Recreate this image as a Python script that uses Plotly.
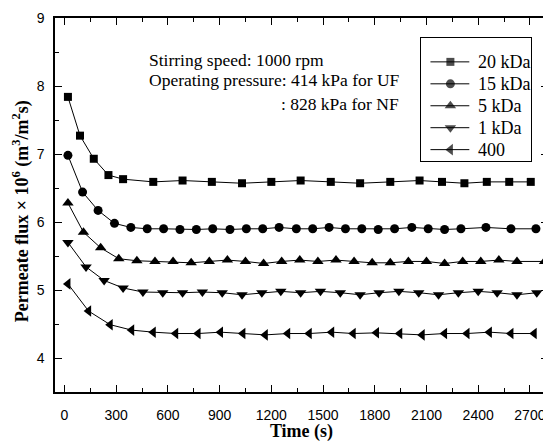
import plotly.graph_objects as go

# ---- data ----
t_20k = [20, 90, 170, 255, 340, 515, 685, 855, 1030, 1200, 1370, 1545, 1715, 1890, 2060, 2190, 2320, 2450, 2580, 2705]
j_20k = [7.84, 7.27, 6.93, 6.69, 6.63, 6.59, 6.61, 6.59, 6.57, 6.59, 6.61, 6.59, 6.57, 6.59, 6.61, 6.59, 6.57, 6.59, 6.59, 6.59]

t_15k = [20, 105, 195, 290, 385, 480, 575, 670, 765, 860, 960, 1055, 1150, 1245, 1345, 1440, 1535, 1630, 1725, 1820,
         1915, 2015, 2110, 2205, 2300, 2445, 2590, 2735]
j_15k = [6.98, 6.44, 6.17, 5.98, 5.92, 5.90, 5.90, 5.89, 5.89, 5.90, 5.89, 5.90, 5.90, 5.92, 5.90, 5.90, 5.92, 5.90, 5.90, 5.89,
         5.90, 5.92, 5.90, 5.89, 5.90, 5.92, 5.90, 5.90]

t_5k = [20, 110, 210, 315, 420, 525, 630, 735, 840, 945, 1050, 1155, 1260, 1365, 1470, 1575, 1680, 1785, 1890, 1995,
        2100, 2205, 2310, 2415, 2520, 2625, 2785]
j_5k = [6.28, 5.85, 5.62, 5.46, 5.43, 5.42, 5.42, 5.40, 5.42, 5.44, 5.42, 5.39, 5.42, 5.44, 5.42, 5.44, 5.42, 5.40, 5.40, 5.42,
        5.42, 5.39, 5.42, 5.42, 5.44, 5.42, 5.42]

t_1k = [20, 125, 230, 340, 455, 570, 685, 800, 915, 1030, 1145, 1255, 1370, 1485, 1600, 1715, 1825, 1940, 2055, 2170,
        2285, 2400, 2510, 2625, 2740]
j_1k = [5.70, 5.34, 5.14, 5.03, 4.97, 4.96, 4.96, 4.97, 4.96, 4.93, 4.96, 4.98, 4.96, 4.98, 4.96, 4.93, 4.96, 4.98, 4.96, 4.93,
        4.96, 4.98, 4.96, 4.93, 4.96]

t_400 = [20, 140, 265, 390, 515, 645, 775, 905, 1035, 1165, 1295, 1420, 1550, 1675, 1810, 1945, 2075, 2205, 2335, 2465,
         2590, 2725]
j_400 = [5.09, 4.69, 4.49, 4.41, 4.38, 4.36, 4.36, 4.38, 4.36, 4.34, 4.36, 4.36, 4.38, 4.36, 4.37, 4.36, 4.34, 4.36, 4.36, 4.38,
         4.36, 4.36]

series_names = ["20 kDa", "15 kDa", "5 kDa", "1 kDa", "400"]
x_ticks = [0, 300, 600, 900, 1200, 1500, 1800, 2100, 2400, 2700]
y_ticks = [4, 5, 6, 7, 8, 9]

times = [t_20k, t_15k, t_5k, t_1k, t_400]
fluxes = [j_20k, j_15k, j_5k, j_1k, j_400]
symbols = ["square", "circle", "triangle-up", "triangle-down", "triangle-left"]
sizes = [8, 9, 10, 10, 10]

SERIF = "Liberation Serif"
SANS = "Liberation Sans"

fig = go.Figure()
for name, x, y, sym, sz in zip(series_names, times, fluxes, symbols, sizes):
    fig.add_trace(go.Scatter(
        x=x, y=y, name=name, mode="lines+markers", showlegend=False,
        line=dict(color="black", width=1),
        marker=dict(symbol=sym, size=sz, color="black", line=dict(width=0)),
    ))

# ---- legend box drawn on its own small axes (units: pixels inside the box) ----
LEG_W, LEG_H = 110, 123
ROW0, ROW_STEP = 24, 22
LINE_X0, LINE_X1, MARK_X, TEXT_X = 9, 48, 29, 55
for i, (name, sym, sz) in enumerate(zip(series_names, symbols, sizes)):
    ry = ROW0 + ROW_STEP * i
    fig.add_trace(go.Scatter(
        x=[LINE_X0, MARK_X, LINE_X1], y=[ry, ry, ry], mode="lines+markers",
        xaxis="x2", yaxis="y2", showlegend=False, hoverinfo="skip", cliponaxis=False,
        line=dict(color="black", width=1),
        marker=dict(symbol=sym, size=[0, sz, 0], color="black", line=dict(width=0)),
    ))
    fig.add_annotation(text=name, xref="x2", yref="y2", x=TEXT_X, y=ry,
                       xanchor="left", yanchor="middle", showarrow=False,
                       font=dict(family=SERIF, size=18, color="black"))

axis_common = dict(
    showline=True, linecolor="black", linewidth=1.5, mirror="allticks",
    ticks="inside", ticklen=7, tickwidth=1.2, tickcolor="black",
    showgrid=False, zeroline=False,
    tickfont=dict(family=SANS, size=14, color="black"),
)

fig.update_layout(
    xaxis=dict(
        range=[-55, 2805], tickvals=x_ticks, ticklabelstandoff=9,
        minor=dict(dtick=150, tick0=0, ticks="inside", ticklen=4, tickwidth=1.2, tickcolor="black"),
        title=dict(text="<b>Time (s)</b>", font=dict(family=SERIF, size=18, color="black"), standoff=6),
        **axis_common,
    ),
    yaxis=dict(
        range=[3.5, 9], tickvals=y_ticks, ticklabelstandoff=6,
        minor=dict(dtick=0.5, tick0=0, ticks="inside", ticklen=4, tickwidth=1.2, tickcolor="black"),
        **axis_common,
    ),
    xaxis2=dict(domain=[0.7434, 0.9657], range=[0, LEG_W], anchor="y2",
                showline=True, mirror=True, linecolor="black", linewidth=1,
                showticklabels=False, ticks="", showgrid=False, zeroline=False, fixedrange=True),
    yaxis2=dict(domain=[0.6187, 0.9467], range=[LEG_H, 0], anchor="x2",
                showline=True, mirror=True, linecolor="black", linewidth=1,
                showticklabels=False, ticks="", showgrid=False, zeroline=False, fixedrange=True),
)

# y-axis title (placed as rotated text to match the reference position)
fig.add_annotation(text="<b>Permeate flux × 10<sup>6</sup> (m<sup>3</sup>/m<sup>2</sup>s)</b>",
                   xref="paper", yref="paper", x=-0.0673, y=0.4827, textangle=-90,
                   xanchor="center", yanchor="middle", showarrow=False,
                   font=dict(family=SERIF, size=18, color="black"))

ann_font = dict(family=SERIF, size=17.5, color="black")
fig.add_annotation(text="Stirring speed: 1000 rpm", xref="paper", yref="paper",
                   x=0.186, y=0.889, xanchor="left", yanchor="middle", showarrow=False, font=ann_font)
fig.add_annotation(text="Operating pressure: 414 kPa for UF", xref="paper", yref="paper",
                   x=0.186, y=0.833, xanchor="left", yanchor="middle", showarrow=False, font=ann_font)
fig.add_annotation(text=": 828 kPa for NF", xref="paper", yref="paper",
                   x=0.701, y=0.771, xanchor="right", yanchor="middle", showarrow=False, font=ann_font)

# page body has an 8px margin, so the figure is drawn 8px smaller
fig.update_layout(
    width=543, height=434,
    margin=dict(l=47, r=1, t=10, b=49),
    paper_bgcolor="white", plot_bgcolor="white",
    showlegend=False,
)

fig.write_html("out.html")
